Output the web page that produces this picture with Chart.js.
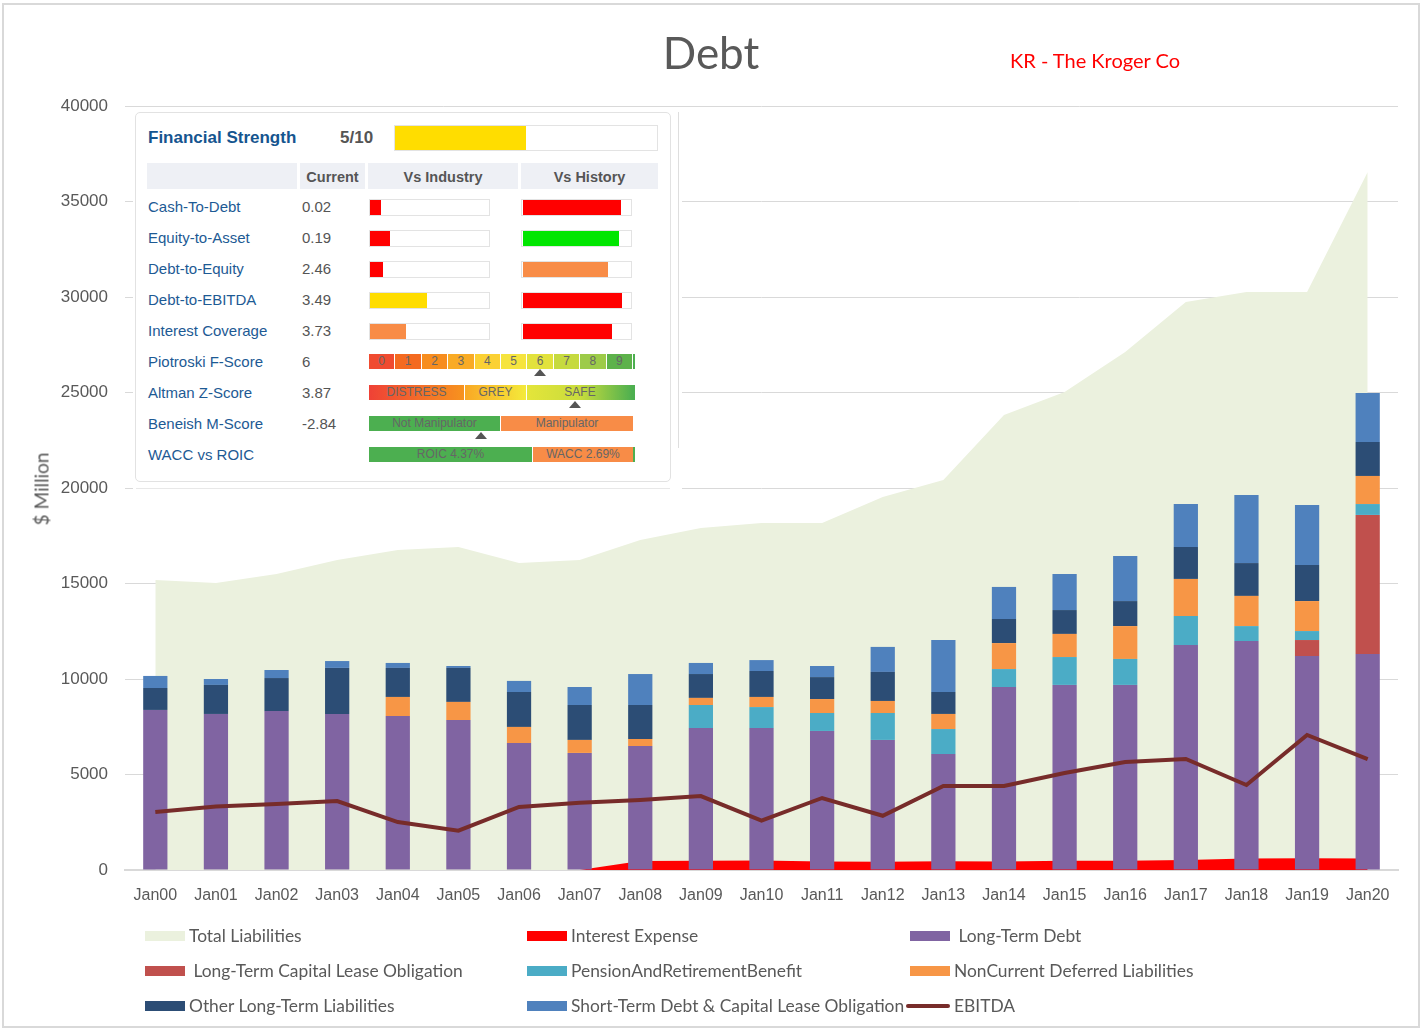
<!DOCTYPE html>
<html>
<head>
<meta charset="utf-8">
<title>Debt</title>
<script src="https://cdn.jsdelivr.net/npm/chart.js@4.4.1/dist/chart.umd.min.js"></script>
<style>
    body { margin: 0; background: #fff; }
    #page { position: relative; width: 1422px; height: 1032px; overflow: hidden; font-family: Lato, 'Open Sans', sans-serif; }
    #frame { position: absolute; left: 2px; top: 3px; width: 1418px; height: 1025px; border: 2px solid #d9d9d9; box-sizing: border-box; }
    canvas { position: absolute; left: 0; top: 0; }
    .abs { position: absolute; white-space: pre; }
    .panel-txt { font-family: 'Liberation Sans', Arial, sans-serif; }
    .seg { position: absolute; height: 15px; font: 12px 'Liberation Sans', Arial, sans-serif; color: #666; text-align: center; line-height: 15px; }
    .tri { position: absolute; width: 0; height: 0; border-left: 6px solid transparent; border-right: 6px solid transparent; border-bottom: 7px solid #555; }
</style>
</head>
<body>
<div id="page">
    <div id="frame"></div>
    <canvas id="debtChart" width="1422" height="1032"></canvas>
    <div class="abs" style="left:0;width:1422px;top:22px;text-align:center;font-size:44px;color:#595959;line-height:60px;">Debt</div>
    <div class="abs" style="left:1010px;top:46px;font-size:20px;color:#ff0000;line-height:28px;">KR - The Kroger Co</div>
    <div class="abs" style="left:41px;top:489px;font-size:19px;color:#595959;transform:translate(-50%,-50%) rotate(-90deg);">$ Million</div>
    <div id="panel"></div>
    <div id="legend"></div>
</div>
<script>
// 类别
const categories = ['Jan00', 'Jan01', 'Jan02', 'Jan03', 'Jan04', 'Jan05', 'Jan06', 'Jan07', 'Jan08', 'Jan09', 'Jan10',
    'Jan11', 'Jan12', 'Jan13', 'Jan14', 'Jan15', 'Jan16', 'Jan17', 'Jan18', 'Jan19', 'Jan20'];

// 系列数据 ($ Million)
const totalLiabilities = [15180, 15030, 15500, 16230, 16750, 16910, 16070, 16230, 17280, 17900, 18170,
    18170, 19530, 20420, 23820, 25030, 27120, 29740, 30260, 30260, 36540];
const interestExpense = [0, 0, 0, 0, 0, 0, 0, 0, 474, 485, 502, 448, 435, 462, 443, 488, 482, 522, 601, 620, 603];
const longTermDebt = [8380, 8170, 8320, 8170, 8060, 7850, 6650, 6130, 6490, 7430, 7430,
    7280, 6810, 6070, 9580, 9690, 9690, 11780, 11990, 11200, 11310];
const capitalLease = [0, 0, 0, 0, 0, 0, 0, 0, 0, 0, 0, 0, 0, 0, 0, 0, 0, 0, 0, 840, 7280];
const pensionBenefit = [0, 0, 0, 0, 0, 0, 0, 0, 0, 1210, 1100, 940, 1410, 1310, 940, 1460, 1360, 1520, 780, 470, 570];
const deferredLiabilities = [0, 0, 0, 0, 1000, 950, 840, 680, 370, 370, 530, 730, 630, 790, 1360, 1210, 1720, 1940, 1580, 1570, 1470];
const otherLiabilities = [1150, 1520, 1730, 2410, 1520, 1780, 1830, 1830, 1780, 1250, 1360,
    1150, 1520, 1150, 1260, 1250, 1310, 1670, 1720, 1890, 1780];
const shortTermDebt = [630, 310, 420, 360, 260, 100, 580, 940, 1620, 580, 570,
    580, 1310, 2720, 1680, 1890, 2360, 2250, 3560, 3140, 2560];
const ebitda = [3040, 3320, 3450, 3610, 2510, 2060, 3300, 3520, 3660, 3870, 2580,
    3770, 2840, 4400, 4400, 5080, 5650, 5810, 4450, 7070, 5810];

// 财务实力面板
const strengthScore = 5;
const metricNames = ['Cash-To-Debt', 'Equity-to-Asset', 'Debt-to-Equity', 'Debt-to-EBITDA', 'Interest Coverage',
    'Piotroski F-Score', 'Altman Z-Score', 'Beneish M-Score', 'WACC vs ROIC'];
const metricValues = ['0.02', '0.19', '2.46', '3.49', '3.73', '6', '3.87', '-2.84', ''];
const industryRank = [0.09, 0.17, 0.11, 0.48, 0.30];
const historyRank = [0.91, 0.89, 0.79, 0.92, 0.82];
const industryColors = ['#ff0000', '#ff0000', '#ff0000', '#ffdd00', '#f88c47'];
const historyColors = ['#ff0000', '#00e600', '#f88c47', '#ff0000', '#ff0000'];

const COLORS = {
    total: '#ebf1de',
    interest: '#ff0000',
    ltd: '#8064a2',
    lease: '#c0504d',
    pension: '#4bacc6',
    deferred: '#f79646',
    other: '#2c4d75',
    std: '#4f81bd',
    ebitda: '#772c2a'
};

function barSet(label, data, color) {
    return {
        label: label,
        data: data,
        backgroundColor: color,
        stack: 'debt',
        order: 5,
        barPercentage: 0.4,
        categoryPercentage: 1.0
    };
}

const datasets = [
    {
        type: 'line', label: 'Total Liabilities', data: totalLiabilities, stack: 'tl', order: 10,
        fill: 'origin', backgroundColor: COLORS.total, borderWidth: 0, pointRadius: 0, tension: 0
    },
    {
        type: 'line', label: 'Interest Expense', data: interestExpense, stack: 'ie', order: 9,
        fill: 'origin', backgroundColor: COLORS.interest, borderWidth: 0, pointRadius: 0, tension: 0
    },
    barSet(' Long-Term Debt', longTermDebt, COLORS.ltd),
    barSet(' Long-Term Capital Lease Obligation', capitalLease, COLORS.lease),
    barSet('PensionAndRetirementBenefit', pensionBenefit, COLORS.pension),
    barSet('NonCurrent Deferred Liabilities', deferredLiabilities, COLORS.deferred),
    barSet('Other Long-Term Liabilities', otherLiabilities, COLORS.other),
    barSet('Short-Term Debt & Capital Lease Obligation', shortTermDebt, COLORS.std),
    {
        type: 'line', label: 'EBITDA', data: ebitda, stack: 'eb', order: 0,
        fill: false, borderColor: COLORS.ebitda, backgroundColor: COLORS.ebitda,
        borderWidth: 4, pointRadius: 0, tension: 0
    }
];

const chart = new Chart(document.getElementById('debtChart'), {
    type: 'bar',
    data: { labels: categories, datasets: datasets },
    options: {
        responsive: false,
        animation: false,
        layout: { padding: { left: 0, right: 24, top: 106, bottom: 122 } },
        plugins: {
            legend: { display: false },
            title: { display: false },
            tooltip: { enabled: false }
        },
        scales: {
            x: {
                stacked: true,
                grid: { display: false, drawTicks: false },
                border: { color: '#d9d9d9', width: 2 },
                ticks: {
                    color: '#595959',
                    font: { family: 'Liberation Sans', size: 16 },
                    padding: 16,
                    maxRotation: 0,
                    autoSkip: false
                },
                afterFit: scale => { scale.height = 40; }
            },
            y: {
                stacked: true,
                min: 0,
                max: 40000,
                ticks: {
                    stepSize: 5000,
                    color: '#595959',
                    font: { family: 'Liberation Sans', size: 17 },
                    padding: 17,
                    callback: value => String(value)
                },
                grid: { color: '#d9d9d9', lineWidth: 1, drawTicks: false },
                border: { display: false },
                afterFit: scale => { scale.width = 125; }
            }
        }
    }
});

// 图例
function renderLegend() {
    const container = document.getElementById('legend');
    const cols = [145, 527, 910];
    const rows = [936, 971, 1006];
    container.innerHTML = chart.data.datasets.map((ds, i) => {
        const x = cols[i % 3];
        const y = rows[Math.floor(i / 3)];
        const isLine = ds.type === 'line' && !ds.fill;
        const color = isLine ? ds.borderColor : ds.backgroundColor;
        const swatch = isLine
            ? `<div class="abs" style="left:${x - 4}px;top:${y - 2}px;width:44px;height:4px;border-radius:2px;background:${color};"></div>`
            : `<div class="abs" style="left:${x}px;top:${y - 5}px;width:40px;height:10px;background:${color};"></div>`;
        return swatch +
            `<div class="abs" style="left:${x + 44}px;top:${y - 13}px;font-size:17.4px;line-height:26px;color:#595959;">${ds.label.replace('&', '&amp;')}</div>`;
    }).join('');
}

// 面板
function box(x, y, w, h, extra) {
    return `<div class="abs" style="left:${x}px;top:${y}px;width:${w}px;height:${h}px;${extra || ''}"></div>`;
}

function text(x, yc, str, style) {
    return `<div class="abs panel-txt" style="left:${x}px;top:${yc - 10}px;line-height:20px;${style}">${str}</div>`;
}

function renderPanel() {
    let html = '';
    html += box(133, 109, 549, 380, 'background:#fff;');
    html += box(135, 112, 536, 370, 'border:1px solid #e2e2e2;border-radius:5px;box-sizing:border-box;');
    html += box(678, 112, 1, 336, 'background:#dedede;');
    html += box(136, 488, 534, 1, 'background:#e8e8e8;');

    html += text(148, 138, 'Financial Strength', 'font-weight:bold;font-size:17px;color:#15558f;');
    html += text(340, 138, strengthScore + '/10', 'font-weight:bold;font-size:17px;color:#555;');
    html += box(394, 125, 264, 26, 'border:1px solid #e3e3e3;box-sizing:border-box;');
    html += box(395, 126, 262 * strengthScore / 10, 24, 'background:#ffdd00;');

    const heads = [[147, 150, ''], [300, 65, 'Current'], [368, 150, 'Vs Industry'], [521, 137, 'Vs History']];
    heads.forEach(([x, w, t]) => {
        html += box(x, 163, w, 26, 'background:#eef0f5;');
        html += `<div class="abs panel-txt" style="left:${x}px;top:167px;width:${w}px;text-align:center;font-weight:bold;font-size:14.5px;line-height:20px;color:#555;">${t}</div>`;
    });

    metricNames.forEach((name, i) => {
        const yc = 207 + 31 * i;
        html += text(148, yc, name, 'font-size:15px;color:#1d5a94;');
        html += text(302, yc, metricValues[i], 'font-size:15px;color:#555;');
        if (i < 5) {
            html += box(369, yc - 8, 121, 17, 'border:1px solid #e3e3e3;box-sizing:border-box;');
            html += box(370, yc - 7, 119 * industryRank[i], 15, `background:${industryColors[i]};`);
            html += box(521, yc - 8, 111, 17, 'border:1px solid #e3e3e3;box-sizing:border-box;');
            html += box(523, yc - 7, 108 * historyRank[i], 15, `background:${historyColors[i]};`);
        }
    });

    // Piotroski F-Score
    const pColors = ['#f04b30', '#f46a20', '#f78d1e', '#f9ab25', '#fbd134', '#f6e43e', '#e2e23c', '#c6da3f', '#9dcb49', '#5db24b'];
    let yc = 207 + 31 * 5;
    pColors.forEach((c, k) => {
        const x = 369 + k * 26.4;
        html += `<div class="seg" style="left:${x}px;top:${yc - 8}px;width:25.4px;background:${c};">${k}</div>`;
    });
    html += box(633, yc - 8, 2, 15, 'background:#4caf50;');
    html += `<div class="tri" style="left:${369 + 6 * 26.4 + 7}px;top:${yc + 7}px;"></div>`;

    // Altman Z-Score
    yc = 207 + 31 * 6;
    html += `<div class="seg" style="left:369px;top:${yc - 8}px;width:95px;background:linear-gradient(to right,#ef4136,#f7931e);">DISTRESS</div>`;
    html += `<div class="seg" style="left:465px;top:${yc - 8}px;width:61px;background:linear-gradient(to right,#f9a825,#f4ea3a);">GREY</div>`;
    html += `<div class="seg" style="left:527px;top:${yc - 8}px;width:106px;background:linear-gradient(to right,#e4e53a,#c9dc3c,#4caf50);">SAFE</div>`;
    html += box(633, yc - 8, 2, 15, 'background:#4caf50;');
    html += `<div class="tri" style="left:569px;top:${yc + 8}px;"></div>`;

    // Beneish M-Score
    yc = 207 + 31 * 7;
    html += `<div class="seg" style="left:369px;top:${yc - 8}px;width:131px;background:#4caf50;">Not Manipulator</div>`;
    html += `<div class="seg" style="left:501px;top:${yc - 8}px;width:132px;background:#f88c47;">Manipulator</div>`;
    html += `<div class="tri" style="left:475px;top:${yc + 8}px;"></div>`;

    // WACC vs ROIC
    yc = 207 + 31 * 8;
    html += `<div class="seg" style="left:369px;top:${yc - 8}px;width:163px;background:#4caf50;">ROIC 4.37%</div>`;
    html += `<div class="seg" style="left:533px;top:${yc - 8}px;width:100px;background:#f88c47;">WACC 2.69%</div>`;
    html += box(633, yc - 8, 2, 15, 'background:#4caf50;');

    document.getElementById('panel').innerHTML = html;
}

renderLegend();
renderPanel();
</script>
</body>
</html>
